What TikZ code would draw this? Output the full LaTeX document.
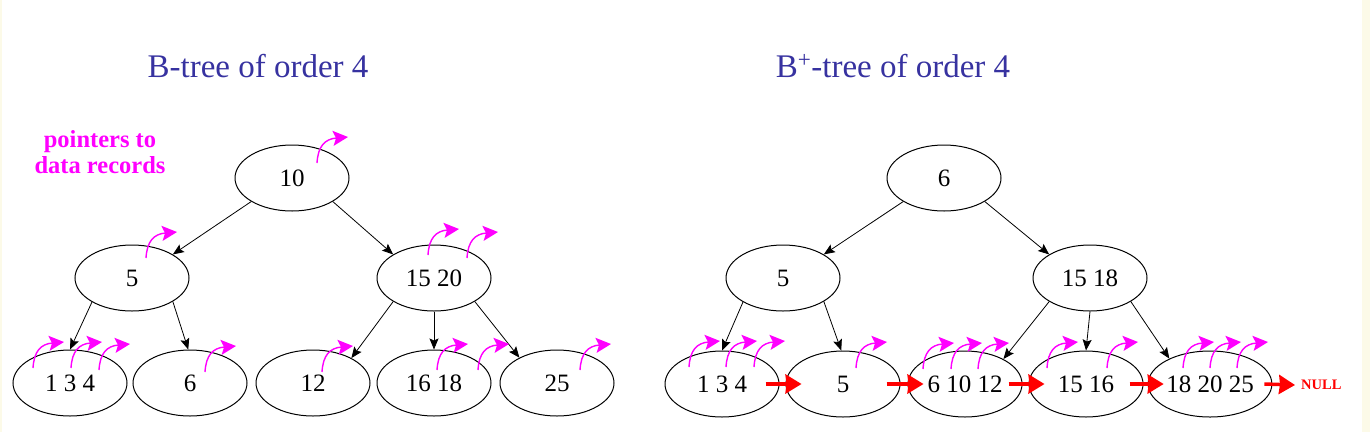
\documentclass[tikz,border=0pt]{standalone}
\usepackage{fontspec}
\setmainfont{Liberation Serif}
\usetikzlibrary{arrows.meta,shapes.geometric}

\definecolor{titleblue}{RGB}{55,50,160}
\definecolor{ptrpink}{RGB}{255,0,255}
\definecolor{edgecream}{RGB}{252,250,232}

\begin{document}
\begin{tikzpicture}[
  x=1pt, y=-1pt,
  key/.style={draw, ellipse, line width=1pt, minimum width=114pt, minimum height=66pt, inner sep=0pt, font=\fontsize{25}{27}\selectfont},
  title/.style={anchor=base, text=titleblue, font=\fontsize{33}{36}\selectfont},
  arr/.style={-{Stealth[length=11pt,width=9pt,inset=2pt]}, line width=0.8pt},
  leaflink/.style={-{Stealth[length=16pt,width=19pt,inset=1pt]}, red, line width=3.5pt},
  recptr/.pic={\draw[ptrpink, line width=1.4pt, -{Stealth[length=15pt,width=15pt,inset=3pt]}] (0,0) .. controls (1,-17) and (8,-24) .. (31,-26);}
]
\useasboundingbox (0,0) rectangle (1370,432);
\fill[edgecream] (0,0) rectangle (2,432);
\fill[edgecream] (1362,0) rectangle (1370,432);

% titles
\node[title] (btitle) at (258,77) {B-tree of order 4};
\node[title] (ptitle) at (893,77) {B\textsuperscript{+}-tree of order 4};
\node[text=ptrpink, align=center, font=\fontsize{24.5}{26}\bfseries] (ptrlabel) at (100,152) {pointers to\\data records};

% B-tree
\node[key] (broot) at (292,178) {10};
\node[key] (bl5) at (132,278) {5};
\node[key] (bl1520) at (434,278) {15 20};
\node[key] (bl134) at (70,383) {1 3 4};
\node[key] (bl6) at (190,383) {6};
\node[key] (bl12) at (313,383) {12};
\node[key] (bl1618) at (434,383) {16 18};
\node[key] (bl25) at (557,383) {25};

\draw[arr] (broot.210) -- (bl5.30);
\draw[arr] (broot.330) -- (bl1520.150);
\draw[arr] (bl5.211) -- (bl134.90);
\draw[arr] (bl5.330) -- (bl6.93);
\draw[arr] (bl1520.210) -- (bl12.33);
\draw[arr] (bl1520.270) -- (bl1618.90);
\draw[arr] (bl1520.330) -- (bl25.146);

% record pointers, every key
\pic at (317,163) {recptr};
\pic at (146,258) {recptr};
\pic at (428,255) {recptr};
\pic at (467,258) {recptr};
\pic at (33,368) {recptr};
\pic at (71,368) {recptr};
\pic at (99,370) {recptr};
\pic at (205,372) {recptr};
\pic at (322,372) {recptr};
\pic at (437,370) {recptr};
\pic at (478,370) {recptr};
\pic at (580,370) {recptr};

% B+-tree
\node[key] (proot) at (944,178) {6};
\node[key] (pl5) at (783,278) {5};
\node[key] (pl1518) at (1090,278) {15 18};
\node[key] (pl134) at (722,384) {1 3 4};
\node[key] (pl5b) at (843,384) {5};
\node[key] (pl61012) at (965,384) {6 10 12};
\node[key] (pl1516) at (1086,384) {15 16};
\node[key] (pl182025) at (1210,384) {18 20 25};
\node[text=red, anchor=west, inner sep=0pt, font=\fontsize{14.5}{16}\bfseries] (nul) at (1301,385) {NULL};

\draw[arr] (proot.210) -- (pl5.30);
\draw[arr] (proot.330) -- (pl1518.150);
\draw[arr] (pl5.211) -- (pl134.90);
\draw[arr] (pl5.330) -- (pl5b.93);
\draw[arr] (pl1518.210) -- (pl61012.33);
\draw[arr] (pl1518.270) -- (pl1516.90);
\draw[arr] (pl1518.330) -- (pl182025.148);

% leaf chain
\draw[leaflink] ([xshift=-14pt]pl134.east) -- ([xshift=16pt]pl5b.west);
\draw[leaflink] ([xshift=-14pt]pl5b.east) -- ([xshift=16pt]pl61012.west);
\draw[leaflink] ([xshift=-14pt]pl61012.east) -- ([xshift=16pt]pl1516.west);
\draw[leaflink] ([xshift=-14pt]pl1516.east) -- ([xshift=16pt]pl182025.west);
\draw[leaflink] ([xshift=-8pt]pl182025.east) -- ([xshift=-6pt]nul.west);

% record pointers, leaves only
\pic at (689,367) {recptr};
\pic at (726,367) {recptr};
\pic at (754,367) {recptr};
\pic at (856,368) {recptr};
\pic at (923,369) {recptr};
\pic at (951,369) {recptr};
\pic at (978,369) {recptr};
\pic at (1047,368) {recptr};
\pic at (1107,368) {recptr};
\pic at (1183,368) {recptr};
\pic at (1210,368) {recptr};
\pic at (1237,368) {recptr};
\end{tikzpicture}
\end{document}
